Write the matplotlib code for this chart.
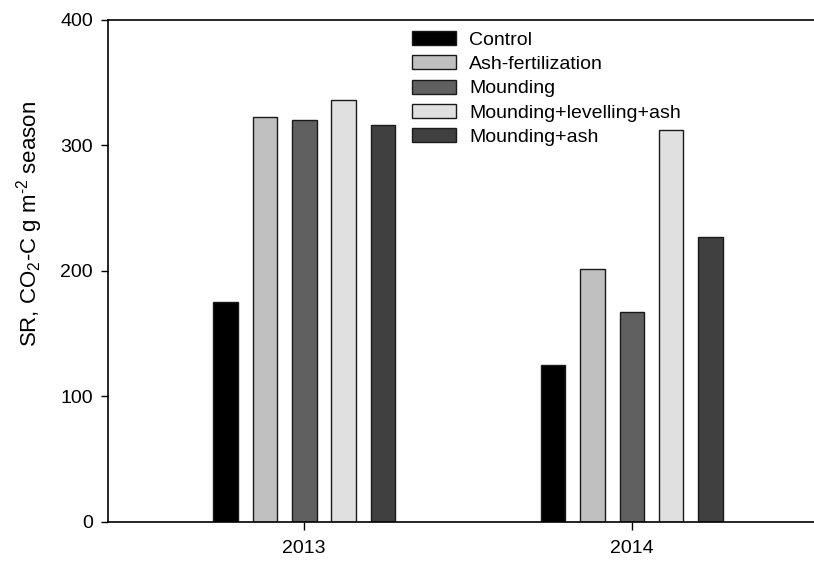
import matplotlib
matplotlib.use("Agg")
import matplotlib.pyplot as plt
import numpy as np

plt.rcParams['font.family'] = ['Liberation Sans', 'DejaVu Sans']
plt.rcParams['mathtext.fontset'] = 'custom'
plt.rcParams['mathtext.rm'] = 'Liberation Sans'
plt.rcParams['mathtext.it'] = 'Liberation Sans:italic'
plt.rcParams['mathtext.default'] = 'regular'

years = ['2013', '2014']
treatments = ['Control', 'Ash-fertilization', 'Mounding', 'Mounding+levelling+ash', 'Mounding+ash']
values = {
    'Control': [175, 125],
    'Ash-fertilization': [323, 201],
    'Mounding': [320, 167],
    'Mounding+levelling+ash': [336, 312],
    'Mounding+ash': [316, 227],
}
colors = ['#000000', '#c0c0c0', '#606060', '#e0e0e0', '#404040']

W, H = 814, 561
fig = plt.figure(figsize=(W / 100, H / 100), dpi=100)
left_px, right_px, top_px, bottom_px = 108, 822, 20, 521.5
ax = fig.add_axes([left_px / W, (H - bottom_px) / H, (right_px - left_px) / W, (bottom_px - top_px) / H])

x = np.arange(len(years))
step = 0.12
width = 0.075
for i, (t, c) in enumerate(zip(treatments, colors)):
    ax.bar(x + (i - 2) * step, values[t], width=width, color=c, edgecolor='#1a1a1a',
           linewidth=1.0, label=t, zorder=2)

ax.set_xlim(-0.599, 1.5805)
ax.set_ylim(0, 400)
ax.set_yticks([0, 100, 200, 300, 400])
ax.set_xticks(x)
ax.set_xticklabels(years)
ax.tick_params(axis='both', direction='out', length=5.4, width=1.0, labelsize=14, colors='black')
ax.tick_params(axis='y', pad=5.5)
ax.tick_params(axis='x', pad=8)
for s in ['left', 'bottom', 'top']:
    ax.spines[s].set_linewidth(1.2)
ax.spines['right'].set_visible(False)

fig.text(30 / W, (H - 224) / H, 'SR, CO$_{2}$-C g m$^{\\text{-2}}$ season', rotation=90,
         ha='center', va='center', fontsize=16)

leg = ax.legend(loc='upper left', bbox_to_anchor=(412 / W, (H - 31) / H),
                bbox_transform=fig.transFigure, frameon=False, fontsize=14,
                handlelength=2.26, handleheight=0.72, labelspacing=0.34,
                handletextpad=0.67, borderpad=0, borderaxespad=0)

fig.savefig('out.png', dpi=100)
